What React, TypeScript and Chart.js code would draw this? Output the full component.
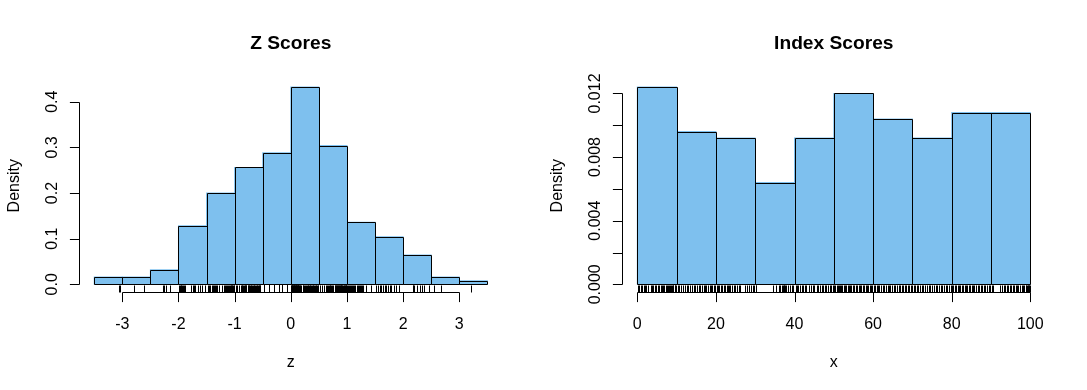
import React, { useEffect, useRef } from "react";
import { Chart, registerables } from "chart.js";

Chart.register(...registerables);

// ---------- Z Scores ----------
const zBinEdges = [-3.5, -3, -2.5, -2, -1.5, -1, -0.5, 0, 0.5, 1, 1.5, 2, 2.5, 3, 3.5];
const zDensity = [0.016, 0.016, 0.032, 0.128, 0.2, 0.256, 0.288, 0.432, 0.304, 0.136, 0.104, 0.064, 0.016, 0.008];
const zXTicks = [-3, -2, -1, 0, 1, 2, 3];
const zXTickLabels = ["-3", "-2", "-1", "0", "1", "2", "3"];
const zYTicks = [0, 0.1, 0.2, 0.3, 0.4];
const zYTickLabels = ["0.0", "0.1", "0.2", "0.3", "0.4"];
const zRug = [
  -3.06, -3.04,
  -2.79, -2.61,
  -2.27, -2.25, -2.22, -2.15,
  -1.99, -1.98, -1.96, -1.95, -1.93, -1.92, -1.9, -1.88, -1.77, -1.75, -1.73, -1.71, -1.65, -1.62, -1.58, -1.52,
  -1.47, -1.45, -1.43, -1.41, -1.39, -1.37, -1.35, -1.33, -1.31, -1.28, -1.22, -1.19, -1.17, -1.15, -1.13,
  -1.12, -1.1, -1.09, -1.07, -1.06, -1.05, -1.04, -1.03, -1.02, -1.01,
  -0.98, -0.95, -0.92, -0.89, -0.87, -0.86, -0.85, -0.84, -0.82, -0.81, -0.8, -0.79, -0.77, -0.76, -0.75, -0.74,
  -0.72, -0.71, -0.7, -0.69, -0.67, -0.66, -0.65, -0.63, -0.62, -0.61, -0.6, -0.58, -0.57, -0.56, -0.55, -0.54,
  -0.48, -0.48, -0.48, -0.48, -0.48, -0.48, -0.39, -0.39, -0.39, -0.39, -0.39, -0.39,
  -0.3, -0.3, -0.3, -0.3, -0.3, -0.3, -0.21, -0.21, -0.21, -0.21, -0.21, -0.21,
  -0.15, -0.15, -0.15, -0.15, -0.15, -0.15, -0.06, -0.06, -0.06, -0.06, -0.06, -0.06,
  0.0, 0.01, 0.015, 0.02, 0.025, 0.03, 0.035, 0.04, 0.045, 0.05, 0.055, 0.06, 0.065, 0.07, 0.075, 0.08, 0.085, 0.09,
  0.095, 0.1, 0.105, 0.11, 0.115, 0.12, 0.125, 0.13, 0.135, 0.14, 0.15, 0.16, 0.17, 0.19, 0.21, 0.22, 0.24, 0.26,
  0.27, 0.28, 0.3, 0.31, 0.33, 0.34, 0.35, 0.36, 0.38, 0.39, 0.4, 0.42, 0.43, 0.44, 0.45, 0.46, 0.48, 0.49,
  0.52, 0.56, 0.6, 0.63, 0.65, 0.67, 0.68, 0.7, 0.72, 0.74, 0.76, 0.78, 0.8, 0.81, 0.82, 0.83, 0.84, 0.85, 0.86,
  0.87, 0.88, 0.89, 0.9, 0.91, 0.92, 0.93, 0.94, 0.95, 0.96, 0.97, 0.98, 0.985, 0.99, 0.995, 0.7, 0.78, 0.84, 0.9,
  1.01, 1.03, 1.05, 1.07, 1.09, 1.11, 1.13, 1.15, 1.17, 1.19, 1.21, 1.23, 1.25, 1.27, 1.29, 1.34, 1.42,
  1.52, 1.55, 1.58, 1.61, 1.64, 1.67, 1.7, 1.73, 1.76, 1.79, 1.83, 1.87, 1.92,
  2.17, 2.18, 2.2, 2.24, 2.3, 2.34, 2.38, 2.46,
  2.55, 2.67,
  3.21,
];

// ---------- Index Scores ----------
const xBinEdges = [0, 10, 20, 30, 40, 50, 60, 70, 80, 90, 100];
const xDensity = [0.0124, 0.0096, 0.0092, 0.0064, 0.0092, 0.012, 0.0104, 0.0092, 0.0108, 0.0108];
const xXTicks = [0, 20, 40, 60, 80, 100];
const xXTickLabels = ["0", "20", "40", "60", "80", "100"];
const xYTicks = [0, 0.002, 0.004, 0.006, 0.008, 0.01, 0.012];
const xYTickLabels = ["0.000", "", "0.004", "", "0.008", "", "0.012"];
const xRug = [
  0.2, 0.5, 0.9, 1.2, 1.6, 1.9, 2.3, 2.6, 3.4, 3.7, 4.1, 4.5, 4.8, 5.2, 5.5, 5.9, 6.3, 6.6, 6.9, 7.2, 7.5, 7.7, 8.0,
  8.3, 8.5, 8.8, 9.0, 9.2, 9.5, 9.7, 9.9,
  10.3, 10.6, 11.0, 11.7, 12.1, 12.6, 13.0, 13.5, 13.8, 14.3, 14.7, 15.1, 15.6, 16.0, 16.4, 16.9, 17.3, 17.6, 18.0,
  18.4, 18.8, 19.1, 19.5, 19.8,
  20.2, 20.5, 20.9, 21.3, 21.6, 22.0, 22.3, 22.7, 23.0, 23.3, 23.6, 24.2, 24.6, 24.9, 25.3, 25.8, 26.1, 27.4, 27.8,
  28.3, 28.9, 29.4, 29.8,
  30.1, 30.3, 34.6, 35.2, 36.0, 36.4, 36.8, 37.0, 37.2, 37.4, 37.6, 37.8, 38.3, 38.8, 39.3, 39.7,
  40.3, 40.7, 41.0, 41.4, 41.9, 42.2, 42.6, 43.0, 43.8, 44.2, 44.6, 45.0, 45.7, 46.1, 46.5, 46.9, 47.3, 47.7, 48.1,
  48.6, 49.0, 49.4, 49.8,
  50.1, 50.4, 50.7, 51.0, 51.3, 51.6, 51.9, 52.2, 52.5, 52.9, 53.2, 53.5, 53.9, 54.2, 54.5, 54.9, 55.2, 55.6, 55.9,
  56.3, 56.7, 57.0, 57.4, 57.8, 58.1, 58.5, 58.8, 59.2, 59.5, 59.8,
  60.2, 60.5, 60.9, 61.2, 61.6, 61.9, 62.5, 62.9, 63.3, 63.7, 64.1, 64.4, 64.8, 65.3, 65.7, 66.1, 66.5, 66.9, 67.3,
  67.7, 68.1, 68.5, 68.9, 69.2, 69.6, 69.9,
  70.3, 70.7, 71.1, 71.5, 72.0, 72.4, 72.8, 73.3, 73.7, 74.1, 74.5, 75.0, 75.5, 75.9, 76.3, 76.8, 77.2, 77.6, 78.1,
  78.5, 78.9, 79.3, 79.7,
  80.1, 80.4, 80.8, 81.1, 81.5, 81.8, 82.2, 82.6, 82.9, 83.3, 83.6, 84.0, 84.4, 84.7, 85.1, 85.5, 85.8, 86.2, 86.6,
  87.0, 87.4, 87.8, 88.2, 88.6, 89.0, 89.4, 89.8,
  90.2, 90.5, 92.4, 92.8, 93.2, 93.6, 94.0, 94.4, 94.8, 95.2, 95.5, 95.9, 96.3, 96.7, 97.0, 97.4, 97.8, 98.1, 98.5,
  98.8, 99.0, 99.2, 99.4, 99.5, 99.7, 99.8, 99.9,
];

const FONT = '"Liberation Sans", Arial, sans-serif';
const BAR_FILL = "#7EC0EE";
const W = 1087;
const H = 390;

type Spec = {
  edges: number[];
  density: number[];
  xTicks: number[];
  xTickLabels: string[];
  yTicks: number[];
  yTickLabels: string[];
  rug: number[];
  title: string;
  xTitle: string;
  yTitle: string;
  padding: { left: number; right: number; top: number; bottom: number };
};

const snap = (v: number) => Math.round(v) + 0.5;

function makeChart(canvas: HTMLCanvasElement, s: Spec) {
  const lo = s.edges[0];
  const hi = s.edges[s.edges.length - 1];
  const xr = hi - lo;
  const ymax = Math.max(...s.density);
  const points = s.density.map((d, i) => ({ x: (s.edges[i] + s.edges[i + 1]) / 2, y: d }));

  const rStyle = {
    id: "rStyle",
    afterDatasetsDraw(chart: any) {
      const { ctx, chartArea: a } = chart;
      const xs = chart.scales.x;
      const ys = chart.scales.y;
      ctx.save();
      ctx.strokeStyle = "#000";
      ctx.fillStyle = "#000";
      ctx.lineWidth = 1;

      // bar outlines (R-style: shared edges drawn once)
      const yb = snap(ys.getPixelForValue(0));
      ctx.beginPath();
      s.density.forEach((d, i) => {
        const l = snap(xs.getPixelForValue(s.edges[i]));
        const r = snap(xs.getPixelForValue(s.edges[i + 1]));
        const t = snap(ys.getPixelForValue(d));
        ctx.rect(l, t, r - l, yb - t);
      });
      ctx.stroke();

      const bottom = snap(a.bottom);
      const left = snap(a.left);

      // rug
      const rugLen = 7;
      ctx.beginPath();
      for (const v of s.rug) {
        const px = snap(xs.getPixelForValue(v));
        ctx.moveTo(px, bottom);
        ctx.lineTo(px, bottom - rugLen);
      }
      ctx.stroke();

      const tick = 9.6;
      // x axis
      ctx.beginPath();
      ctx.moveTo(snap(xs.getPixelForValue(s.xTicks[0])), bottom);
      ctx.lineTo(snap(xs.getPixelForValue(s.xTicks[s.xTicks.length - 1])), bottom);
      for (const t of s.xTicks) {
        const px = snap(xs.getPixelForValue(t));
        ctx.moveTo(px, bottom);
        ctx.lineTo(px, bottom + tick);
      }
      // y axis
      ctx.moveTo(left, snap(ys.getPixelForValue(s.yTicks[0])));
      ctx.lineTo(left, snap(ys.getPixelForValue(s.yTicks[s.yTicks.length - 1])));
      for (const t of s.yTicks) {
        const py = snap(ys.getPixelForValue(t));
        ctx.moveTo(left, py);
        ctx.lineTo(left - tick, py);
      }
      ctx.stroke();

      ctx.font = `16px ${FONT}`;
      ctx.textAlign = "center";
      ctx.textBaseline = "alphabetic";
      s.xTicks.forEach((t, i) => {
        ctx.fillText(s.xTickLabels[i], xs.getPixelForValue(t), a.bottom + 36.5);
      });
      s.yTicks.forEach((t, i) => {
        if (!s.yTickLabels[i]) return;
        ctx.save();
        ctx.translate(a.left - 22, ys.getPixelForValue(t));
        ctx.rotate(-Math.PI / 2);
        ctx.fillText(s.yTickLabels[i], 0, 0);
        ctx.restore();
      });
      // axis titles
      const cx = (a.left + a.right) / 2;
      ctx.fillText(s.xTitle, cx, a.bottom + 74.8);
      ctx.save();
      ctx.translate(a.left - 59.8, (a.top + a.bottom) / 2);
      ctx.rotate(-Math.PI / 2);
      ctx.fillText(s.yTitle, 0, 0);
      ctx.restore();
      // main title
      ctx.font = `bold 19.2px ${FONT}`;
      ctx.fillText(s.title, cx, 49);
      ctx.restore();
    },
  };

  return new Chart(canvas, {
    type: "bar",
    data: {
      datasets: [
        {
          data: points as any,
          backgroundColor: BAR_FILL,
          borderWidth: 0,
          barPercentage: 1,
          categoryPercentage: 1,
          inflateAmount: 0.5,
        } as any,
      ],
    },
    options: {
      animation: false,
      responsive: false,
      devicePixelRatio: 1,
      layout: { padding: s.padding },
      plugins: {
        legend: { display: false },
        tooltip: { enabled: false },
        title: { display: false },
      },
      scales: {
        x: {
          type: "linear",
          display: false,
          offset: false,
          min: lo - 0.04 * xr,
          max: hi + 0.04 * xr,
        },
        y: {
          type: "linear",
          display: false,
          min: -0.04 * ymax,
          max: ymax * 1.04,
        },
      },
    },
    plugins: [rStyle as any],
  });
}

export default function App() {
  const leftRef = useRef<HTMLCanvasElement | null>(null);
  const rightRef = useRef<HTMLCanvasElement | null>(null);

  useEffect(() => {
    const c1 = makeChart(leftRef.current!, {
      edges: zBinEdges,
      density: zDensity,
      xTicks: zXTicks,
      xTickLabels: zXTickLabels,
      yTicks: zYTicks,
      yTickLabels: zYTickLabels,
      rug: zRug,
      title: "Z Scores",
      xTitle: "z",
      yTitle: "Density",
      padding: { left: 78.5, right: W - 503.1, top: 79.2, bottom: H - 292.2 },
    });
    const c2 = makeChart(rightRef.current!, {
      edges: xBinEdges,
      density: xDensity,
      xTicks: xXTicks,
      xTickLabels: xXTickLabels,
      yTicks: xYTicks,
      yTickLabels: xYTickLabels,
      rug: xRug,
      title: "Index Scores",
      xTitle: "x",
      yTitle: "Density",
      padding: { left: 621.6, right: W - 1046, top: 79.2, bottom: H - 292.2 },
    });
    return () => {
      c1.destroy();
      c2.destroy();
    };
  }, []);

  const cs: React.CSSProperties = { position: "absolute", left: 0, top: 0, width: W, height: H };
  return (
    <div style={{ position: "absolute", left: 0, top: 0, width: W, height: H, background: "#fff" }}>
      <canvas ref={leftRef} width={W} height={H} style={cs} />
      <canvas ref={rightRef} width={W} height={H} style={cs} />
    </div>
  );
}
